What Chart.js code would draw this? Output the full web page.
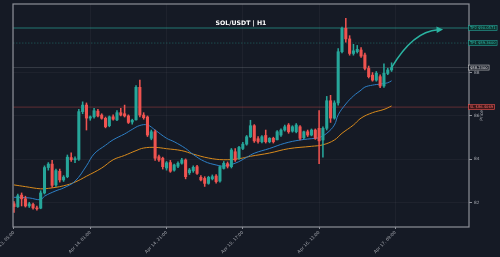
<!DOCTYPE html>
<html><head><meta charset="utf-8">
<script src="https://cdn.jsdelivr.net/npm/chart.js@4/dist/chart.umd.min.js"></script>
<style>html,body{margin:0;padding:0;background:#151a25;overflow:hidden}</style>
</head><body>
<canvas id="c" width="500" height="257"></canvas>
<script>
// ---------- data ----------
const chartTitle = 'SOL/USDT | H1';
const xTickLabels = ['Apr 13, 05:00','Apr 14, 01:00','Apr 14, 21:00','Apr 15, 17:00','Apr 16, 13:00','Apr 17, 09:00'];
const xTickStep = 20;            // hours between x tick labels
const yTicks = [82, 84, 86, 88];

const opens  = [81.95,81.82,82.35,82.18,81.85,81.92,81.76,81.75,82.45,83.62,
                83.78,82.82,83.45,83.05,83.20,84.08,83.98,84.00,86.20,86.50,
                85.90,85.96,86.22,86.04,85.89,85.55,85.96,85.82,86.15,86.10,
                86.00,85.72,85.82,87.32,86.04,85.95,84.97,85.27,84.12,84.05,
                83.60,83.85,83.50,83.68,83.82,83.97,83.38,83.47,83.66,83.17,
                83.12,82.89,83.10,83.23,83.00,83.58,83.80,83.66,84.35,84.05,
                84.50,84.70,85.04,85.55,84.95,84.81,85.10,84.81,84.97,84.90,
                85.12,85.35,85.58,85.30,85.27,85.50,85.00,85.27,85.12,85.35,
                85.43,84.89,85.43,86.70,85.90,86.60,88.96,90.04,89.55,88.88,
                88.96,89.04,88.81,88.19,87.88,87.65,87.81,87.38,87.96,88.12];
const highs  = [82.05,82.40,82.45,82.30,82.02,81.98,81.85,82.55,83.70,83.85,
                83.95,83.55,83.55,83.25,84.20,84.30,84.12,86.30,86.65,86.60,
                86.00,86.35,86.30,86.10,85.95,86.00,86.05,86.25,86.35,86.50,
                86.05,85.85,87.40,87.65,86.15,86.00,85.35,85.35,84.20,84.10,
                83.90,83.95,83.78,83.88,84.05,84.02,83.58,83.70,83.72,83.25,
                83.20,83.22,83.28,83.30,83.70,83.90,83.88,84.50,84.50,84.60,
                84.78,85.10,85.80,85.60,85.05,85.10,85.35,85.00,85.02,85.32,
                85.40,85.58,85.65,85.55,85.65,85.55,85.30,85.35,85.40,85.40,
                86.25,85.50,86.90,86.95,86.70,89.10,90.10,90.50,89.70,89.30,
                89.25,89.15,88.90,88.30,88.00,88.05,87.90,88.40,88.20,88.45];
const lows   = [81.55,81.78,81.85,81.80,81.78,81.70,81.66,81.72,82.40,83.50,
                82.70,82.75,82.95,82.98,83.15,83.90,83.85,83.95,86.10,85.35,
                85.80,85.90,85.95,85.85,85.45,85.50,85.80,85.78,86.00,85.95,
                85.65,85.62,85.80,85.95,85.85,85.05,84.90,83.95,83.90,83.55,
                83.50,83.40,83.45,83.62,83.78,83.10,83.30,83.40,83.30,83.00,
                82.75,82.85,83.05,82.90,82.95,83.55,83.60,83.60,83.90,84.00,
                84.45,84.65,85.00,84.78,84.75,84.76,84.75,84.76,84.75,84.90,
                85.05,85.30,85.20,85.25,85.22,84.90,84.95,85.05,85.08,84.92,
                83.80,84.10,85.35,85.70,85.85,86.50,88.90,89.40,88.80,88.80,
                88.90,88.70,88.12,87.75,87.60,87.60,87.30,87.32,87.90,88.05];
const closes = [81.82,82.32,82.18,81.85,81.95,81.76,81.72,82.45,83.62,83.78,
                82.80,83.48,83.05,83.18,84.10,83.98,84.03,86.20,86.50,85.90,
                85.96,86.24,86.00,85.89,85.50,85.96,85.85,86.15,86.04,86.00,
                85.70,85.80,87.32,86.04,85.92,85.12,85.27,84.05,83.97,83.66,
                83.84,83.45,83.74,83.82,83.97,83.20,83.51,83.63,83.35,83.05,
                82.89,83.17,83.20,82.97,83.66,83.82,83.68,84.43,83.97,84.55,
                84.70,85.04,85.55,84.85,84.82,85.04,84.81,84.97,84.81,85.27,
                85.35,85.50,85.27,85.50,85.58,84.97,85.27,85.12,85.35,84.97,
                84.85,85.43,86.70,85.90,86.60,88.96,90.04,89.55,88.88,89.00,
                89.07,88.76,88.19,87.81,87.65,87.97,87.38,87.97,88.12,88.23];

// moving averages (bar index -> value)
const emaFastIdx  = [0,4,7,8,11,13,16,19,21,24,26,29,31,33,35,37,40,42,45,47,50,53,55,58,61,63,67,71,75,79,80,82,84,85,87,89,91,92,94,96,98,99];
const emaFastVals = [82.25,82.22,82.14,82.30,82.55,82.68,82.99,83.70,84.25,84.65,84.90,85.17,85.38,85.56,85.58,85.35,84.97,84.81,84.50,84.22,83.90,83.74,83.69,83.82,84.09,84.28,84.50,84.74,84.89,84.97,85.00,85.20,85.58,86.05,86.55,86.92,87.19,87.33,87.42,87.47,87.53,87.62];
const emaSlowIdx  = [0,3,7,9,13,16,19,23,26,29,32,34,37,40,44,47,51,55,59,62,67,72,78,81,84,86,89,91,94,97,99];
const emaSlowVals = [82.82,82.74,82.64,82.66,82.78,82.95,83.22,83.60,83.98,84.18,84.40,84.52,84.55,84.49,84.40,84.24,84.06,83.98,84.03,84.14,84.29,84.49,84.60,84.67,84.89,85.20,85.58,85.90,86.15,86.30,86.46];

const levelValues = [90.0571, 89.36, 88.23, 86.4069];
const levelLabels = ['TP2 $90.0571', 'TP1 $89.3600', '$88.2300', 'SL $86.4069'];
const projectionBarIndex = 112.5;   // bar index where the projected move reaches TP2

// ---------- styles ----------
const BG = '#151a25';
const UP = '#26a69a', DN = '#ef5350';
const levelStyles = [
  {line:'rgba(38,166,154,0.33)', width:2,   dash:[],      box:'#0f3430', border:'#26a69a', text:'#2bbfae'},
  {line:'rgba(38,166,154,0.40)', width:0.9, dash:[1.5,1.5], box:'#0f3430', border:'#26a69a', text:'#2bbfae'},
  {line:'rgba(130,135,145,0.30)',width:1,   dash:[],      box:'#1b1f2a', border:'#c9c9c9', text:'#f0f0f0'},
  {line:'rgba(239,83,80,0.35)',  width:1,   dash:[],      box:'#3f1719', border:'#ef5350', text:'#ff6b68'}
];

const idx = opens.map((_, i) => i);
const candleColors = idx.map(i => closes[i] >= opens[i] ? UP : DN);

const overlay = {
  id: 'overlay',
  beforeDraw(chart) {
    const ctx = chart.ctx;
    ctx.save(); ctx.fillStyle = BG; ctx.fillRect(0, 0, chart.width, chart.height); ctx.restore();
  },
  beforeDatasetsDraw(chart) {
    const {ctx, chartArea: a, scales: {y}} = chart;
    ctx.save();
    ctx.beginPath(); ctx.rect(a.left, a.top, a.width, a.height); ctx.clip();
    levelValues.forEach((v, k) => {
      const st = levelStyles[k];
      const py = y.getPixelForValue(v);
      ctx.strokeStyle = st.line; ctx.lineWidth = st.width; ctx.setLineDash(st.dash);
      ctx.beginPath(); ctx.moveTo(a.left, py); ctx.lineTo(a.right, py); ctx.stroke();
    });
    ctx.restore();
  },
  afterDatasetsDraw(chart) {
    const {ctx, scales: {x, y}} = chart;
    const last = closes.length - 1;
    const x0 = x.getPixelForValue(last), y0 = y.getPixelForValue(closes[last]);
    const x1 = x.getPixelForValue(projectionBarIndex), y1 = y.getPixelForValue(levelValues[0]) + 1.5;
    const cx = x0 + (x1 - x0) * 0.42, cy = y1 + 1.8;
    ctx.save();
    ctx.strokeStyle = '#2ab3a1'; ctx.fillStyle = '#2ab3a1'; ctx.lineWidth = 1.5;
    const ang = Math.atan2(y1 - cy, x1 - cx);
    const hl = 6.5, hw = 3.2;
    const bx = x1 - Math.cos(ang) * hl * 0.8, by = y1 - Math.sin(ang) * hl * 0.8;
    ctx.beginPath(); ctx.moveTo(x0, y0); ctx.quadraticCurveTo(cx, cy, bx, by); ctx.stroke();
    ctx.beginPath();
    ctx.moveTo(x1, y1);
    ctx.lineTo(x1 - Math.cos(ang) * hl - Math.sin(ang) * hw, y1 - Math.sin(ang) * hl + Math.cos(ang) * hw);
    ctx.lineTo(x1 - Math.cos(ang) * hl + Math.sin(ang) * hw, y1 - Math.sin(ang) * hl - Math.cos(ang) * hw);
    ctx.closePath(); ctx.fill();
    ctx.restore();
  },
  afterDraw(chart) {
    const {ctx, chartArea: a, scales: {y}} = chart;
    ctx.save();
    // frame
    ctx.strokeStyle = '#8d9098'; ctx.lineWidth = 1.2;
    ctx.strokeRect(a.left, a.top, a.width, a.height);
    // title
    ctx.fillStyle = '#ffffff'; ctx.font = 'bold 6.2px "DejaVu Sans"';
    ctx.textAlign = 'center'; ctx.textBaseline = 'middle';
    ctx.fillText(chartTitle, (a.left + a.right) / 2, 23.5);
    // axis title
    ctx.save();
    ctx.translate(482, (a.top + a.bottom) / 2);
    ctx.rotate(-Math.PI / 2);
    ctx.fillStyle = '#b0b3b9'; ctx.font = '4.4px "DejaVu Sans"';
    ctx.fillText('Price', 0, 0);
    ctx.restore();
    // level labels
    ctx.font = '3.7px "DejaVu Sans"'; ctx.textAlign = 'left'; ctx.textBaseline = 'middle';
    levelValues.forEach((v, k) => {
      const st = levelStyles[k];
      const py = y.getPixelForValue(v);
      const tw = ctx.measureText(levelLabels[k]).width;
      const bx = a.right - 0.5, bw = tw + 3, bh = 5;
      ctx.fillStyle = st.box; ctx.fillRect(bx, py - bh / 2, bw, bh);
      ctx.strokeStyle = st.border; ctx.lineWidth = 0.6; ctx.strokeRect(bx, py - bh / 2, bw, bh);
      ctx.fillStyle = st.text; ctx.fillText(levelLabels[k], bx + 1.5, py + 0.2);
    });
    ctx.restore();
  }
};

new Chart(document.getElementById('c'), {
  data: {
    datasets: [
      {type: 'line', label: 'EMA slow', data: emaSlowIdx.map((v, k) => ({x: v, y: emaSlowVals[k]})),
       borderColor: '#d88a1c', borderWidth: 1, pointRadius: 0, tension: 0.4, order: 4},
      {type: 'line', label: 'EMA fast', data: emaFastIdx.map((v, k) => ({x: v, y: emaFastVals[k]})),
       borderColor: '#2d7fc6', borderWidth: 1, pointRadius: 0, tension: 0.4, order: 3},
      {type: 'bar', label: 'wick', data: idx.map(i => ({x: i, y: [lows[i], highs[i]]})),
       backgroundColor: candleColors, barThickness: 0.9, grouped: false, order: 2},
      {type: 'bar', label: 'body', data: idx.map(i => ({x: i, y: [opens[i], closes[i]]})),
       backgroundColor: candleColors, barThickness: 2.4, grouped: false, order: 1}
    ]
  },
  options: {
    responsive: false, animation: false, devicePixelRatio: 1,
    layout: {padding: {left: 13, top: 4, right: 0, bottom: 0}},
    plugins: {legend: {display: false}, tooltip: {enabled: false}},
    scales: {
      x: {
        type: 'linear', min: -0.26, max: 119.3, offset: false,
        grid: {color: 'rgba(255,255,255,0.04)', offset: false, tickColor: '#8d9098', tickLength: 2},
        border: {display: false},
        ticks: {color: '#a3a6ad', font: {size: 4.3, family: 'DejaVu Sans'}, autoSkip: false,
                maxRotation: 45, minRotation: 45, padding: 1,
                callback: v => xTickLabels[Math.round(v / xTickStep)] ?? ''},
        afterBuildTicks: s => { s.ticks = xTickLabels.map((_, k) => ({value: k * xTickStep})); },
        afterFit: s => { s.height = 30; s.paddingLeft = 0; s.paddingRight = 0; }
      },
      y: {
        type: 'linear', position: 'right', min: 80.88, max: 91.16,
        grid: {color: 'rgba(255,255,255,0.04)', tickColor: '#8d9098', tickLength: 3},
        border: {display: false},
        ticks: {color: '#a3a6ad', font: {size: 4.3, family: 'DejaVu Sans'}, padding: 2},
        afterBuildTicks: s => { s.ticks = yTicks.map(v => ({value: v})); },
        afterFit: s => { s.width = 31; s.paddingTop = 0; s.paddingBottom = 0; }
      }
    }
  },
  plugins: [overlay]
});
</script>
</body></html>
